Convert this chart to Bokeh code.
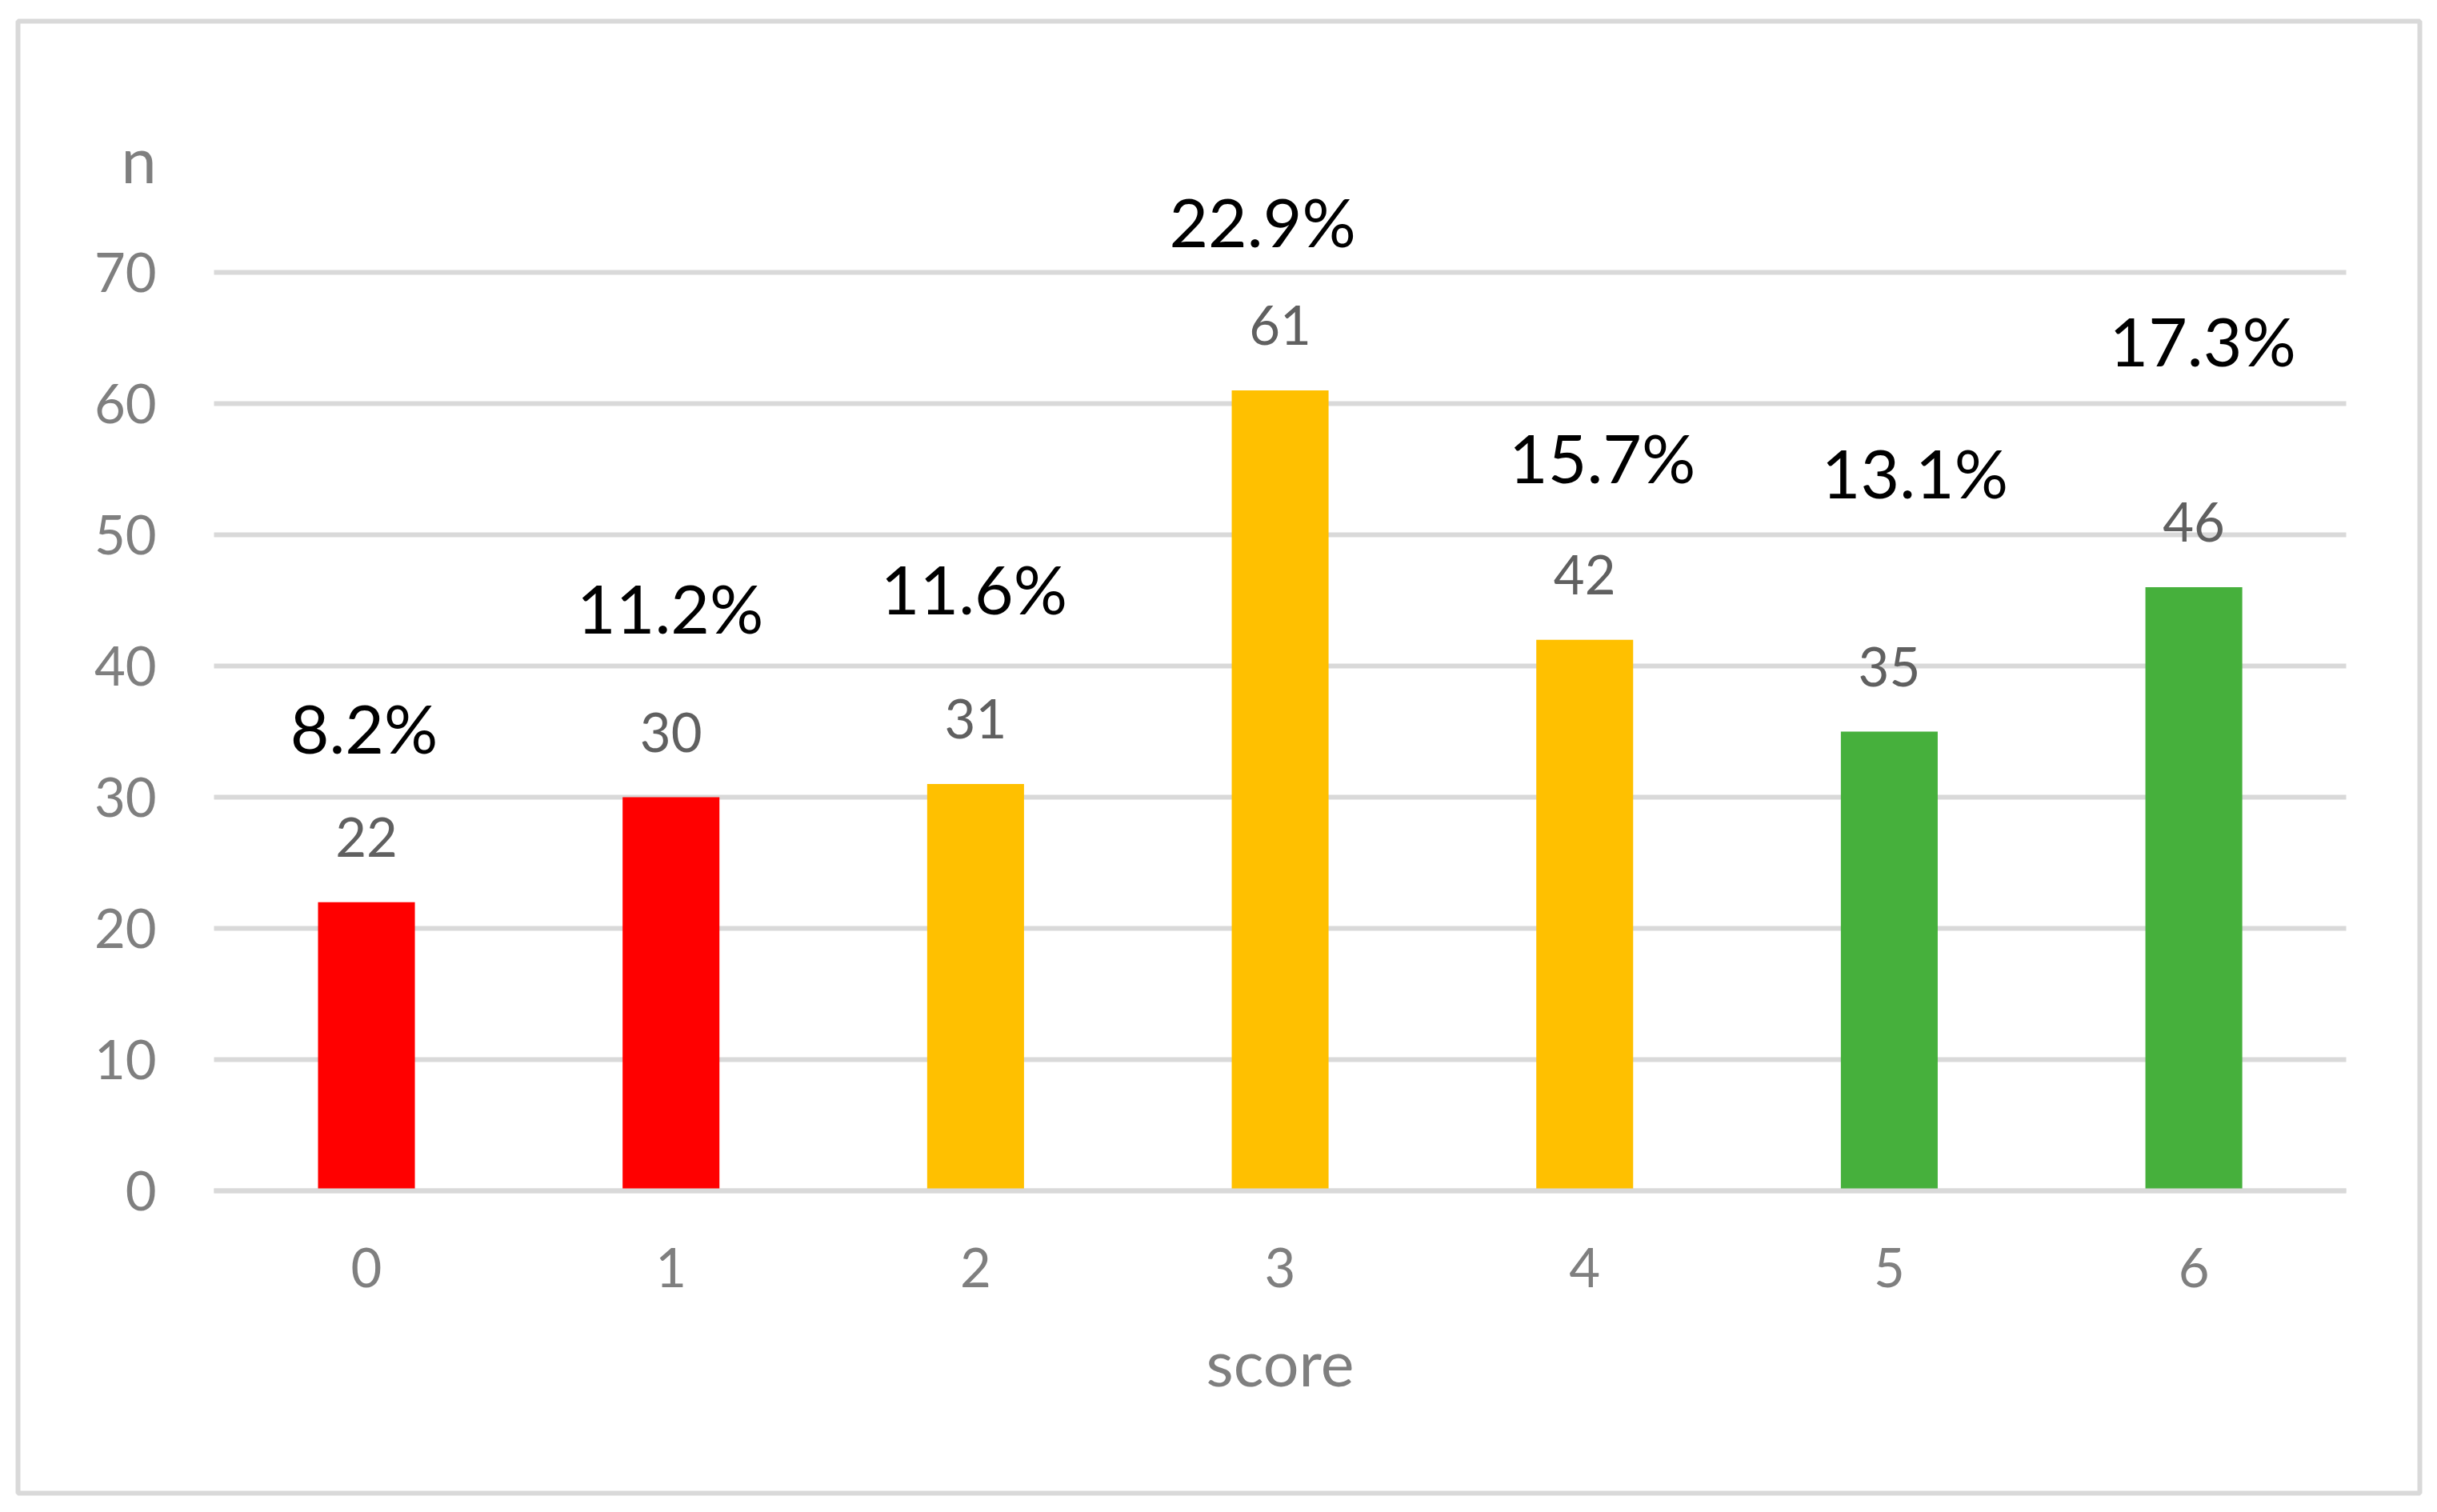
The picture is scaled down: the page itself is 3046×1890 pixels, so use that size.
from bokeh.plotting import figure
from bokeh.models import ColumnDataSource, FixedTicker, Range1d
from bokeh.core.properties import value
from bokeh.embed import file_html
from bokeh.resources import INLINE

# ---- data ----
categories = ["0", "1", "2", "3", "4", "5", "6"]
counts = [22, 30, 31, 61, 42, 35, 46]
percent_labels = ["8.2%", "11.2%", "11.6%", "22.9%", "15.7%", "13.1%", "17.3%"]
bar_colors = ["#FF0000", "#FF0000", "#FFC000", "#FFC000", "#FFC000", "#46B03C", "#46B03C"]
y_ticks = [0, 10, 20, 30, 40, 50, 60, 70]
y_title = "n"
x_title = "score"

# ---- layout of hand-placed percentage labels (pixels above bar top) ----
pct_dx = [-3, -1, -2, -22, 22, 32, 11]
pct_dy = [188, 206, 214, 181, 198, 293, 278]

FONT = "Lato"
GRID = "#D9D9D9"
AXIS_TXT = "#7F7F7F"
VAL_TXT = "#606060"
BASE_FIX = 0.365  # baseline compensation (em)
BAND = (-0.5, 6.5)

xs = list(range(len(categories)))

src = ColumnDataSource(dict(
    x=xs,
    top=counts,
    color=bar_colors,
    val=[str(c) for c in counts],
    pct=percent_labels,
    pdx=pct_dx,
    pdy=[-(d + BASE_FIX * 84) for d in pct_dy],
))

# frame covers the whole chart area (inside the light border)
p = figure(
    width=3040, height=1884,
    x_range=Range1d(-1.1441, 6.7419), y_range=Range1d(-23.049, 89.146),
    output_backend="svg", toolbar_location=None,
    min_border_left=22, min_border_right=16,
    min_border_top=26, min_border_bottom=18,
)
p.title.visible = False
p.background_fill_color = "white"
p.border_fill_color = "white"
p.outline_line_color = GRID
p.outline_line_width = 6

# grid
p.xgrid.grid_line_color = None
grid = p.ygrid[0]
if "cross_bounds" in grid.properties():
    grid.ticker = FixedTicker(ticks=y_ticks)
    grid.cross_bounds = BAND
    grid.grid_line_color = GRID
    grid.grid_line_width = 6
else:
    grid.grid_line_color = None
    p.segment(x0=[BAND[0]] * len(y_ticks), x1=[BAND[1]] * len(y_ticks),
              y0=y_ticks, y1=y_ticks, line_color=GRID, line_width=6)

p.vbar(x="x", top="top", bottom=0, width=0.318, fill_color="color",
       line_color=None, source=src)

# value labels
p.text(x="x", y="top", text="val", source=src, text_align="center",
       text_baseline="alphabetic", y_offset=-(57 + BASE_FIX * 67),
       text_color=VAL_TXT, text_font=value(FONT), text_font_size="67px")

# percentage labels
p.text(x="x", y="top", text="pct", source=src, text_align="center",
       text_baseline="alphabetic", x_offset="pdx", y_offset="pdy",
       text_color="black", text_font=value(FONT), text_font_size="84px")

# y axis title at top-left
p.text(x=[-0.5], y=[76.9], text=[y_title], text_align="right",
       text_baseline="alphabetic", x_offset=-72, y_offset=-BASE_FIX * 79,
       text_color=AXIS_TXT, text_font=value(FONT), text_font_size="79px")

# y axis (placed inside the frame at the left end of the category band)
p.yaxis.fixed_location = BAND[0]
p.yaxis.ticker = FixedTicker(ticks=y_ticks)
p.yaxis.axis_line_color = None
p.yaxis.major_tick_line_color = None
p.yaxis.minor_tick_line_color = None
p.yaxis.major_tick_out = 0
p.yaxis.major_tick_in = 0
p.yaxis.major_label_standoff = 72
p.yaxis.major_label_text_font = FONT
p.yaxis.major_label_text_font_size = "67px"
p.yaxis.major_label_text_color = AXIS_TXT

# x axis at y = 0
p.xaxis.fixed_location = 0
p.xaxis.bounds = BAND
p.xaxis.ticker = FixedTicker(ticks=xs)
p.xaxis.major_label_overrides = {i: c for i, c in zip(xs, categories)}
p.xaxis.axis_line_color = GRID
p.xaxis.axis_line_width = 6
p.xaxis.major_tick_line_color = None
p.xaxis.minor_tick_line_color = None
p.xaxis.major_tick_out = 0
p.xaxis.major_tick_in = 0
p.xaxis.major_label_standoff = 72
p.xaxis.major_label_text_font = FONT
p.xaxis.major_label_text_font_size = "67px"
p.xaxis.major_label_text_color = AXIS_TXT
p.xaxis.axis_label = x_title
p.xaxis.axis_label_standoff = 42
p.xaxis.axis_label_text_font = FONT
p.xaxis.axis_label_text_font_size = "79px"
p.xaxis.axis_label_text_font_style = "normal"
p.xaxis.axis_label_text_color = AXIS_TXT

open("out.html", "w").write(file_html(p, INLINE))
